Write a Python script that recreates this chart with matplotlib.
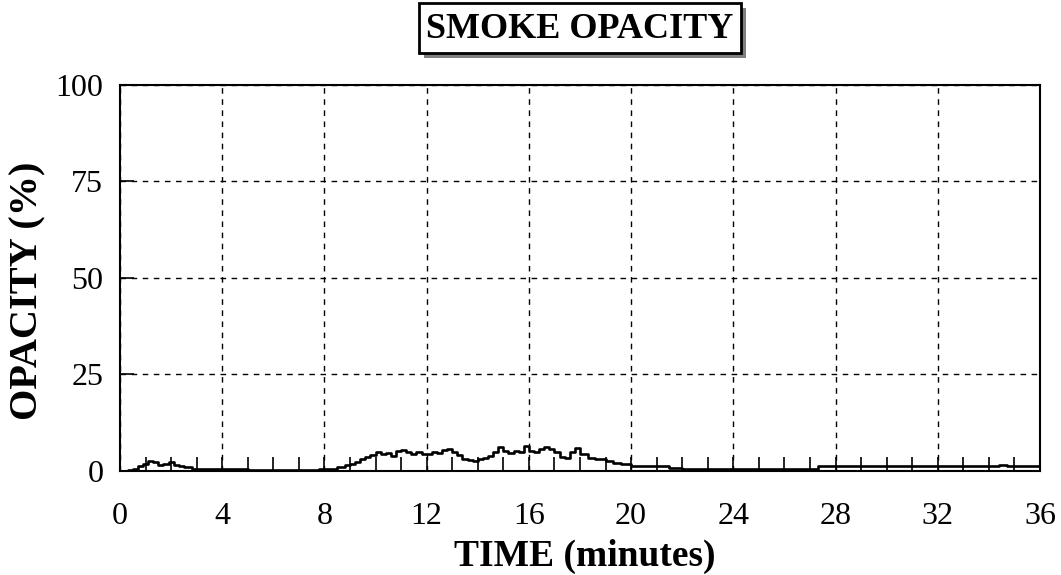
import matplotlib
matplotlib.use("Agg")
import matplotlib.pyplot as plt
from matplotlib.ticker import MultipleLocator
from matplotlib.patches import Rectangle

# smoke opacity readings (minutes, %)
time = [0.0, 0.3, 0.5, 0.7, 0.9, 1.1, 1.3, 1.5, 1.7, 1.9, 2.1, 2.3, 2.5, 2.8, 3.2, 3.6,
        4.0, 5.0, 6.0, 7.0, 7.8, 8.2, 8.5, 8.8, 9.0, 9.2, 9.4, 9.6, 9.8, 10.0, 10.2,
        10.4, 10.6, 10.8, 11.0, 11.2, 11.4, 11.6, 11.8, 12.0, 12.2, 12.4, 12.6, 12.8,
        13.0, 13.2, 13.4, 13.6, 13.8, 14.0, 14.2, 14.4, 14.6, 14.8, 15.0, 15.2, 15.4,
        15.6, 15.8, 16.0, 16.2, 16.4, 16.6, 16.8, 17.0, 17.2, 17.4, 17.6, 17.8, 18.0,
        18.3, 18.6, 19.0, 19.3, 19.6, 20.0, 20.5, 21.0, 21.5, 22.0, 24.0, 26.0, 27.3,
        30.0, 33.0, 34.4, 34.7, 36.0]
opacity = [0.0, 0.3, 0.6, 1.2, 1.8, 2.5, 2.3, 1.6, 1.8, 2.2, 1.5, 1.2, 1.0, 0.6, 0.5, 0.4,
           0.4, 0.3, 0.3, 0.3, 0.4, 0.6, 1.0, 1.5, 1.9, 2.4, 3.0, 3.5, 4.2, 4.8, 4.3,
           4.6, 4.0, 5.2, 5.5, 4.8, 4.4, 5.0, 4.3, 4.5, 5.0, 4.6, 5.4, 5.8, 4.8, 4.2,
           3.0, 2.9, 2.7, 3.0, 3.4, 3.8, 5.0, 6.2, 5.3, 4.6, 5.2, 5.0, 6.6, 5.2, 4.9,
           5.8, 6.3, 5.6, 5.0, 3.6, 3.3, 4.8, 5.9, 4.3, 3.4, 3.0, 2.6, 2.0, 1.7, 1.4,
           1.3, 1.2, 0.9, 0.6, 0.5, 0.5, 1.2, 1.2, 1.2, 1.6, 1.2, 1.2]

xticks = [0, 4, 8, 12, 16, 20, 24, 28, 32, 36]
yticks = [0, 25, 50, 75, 100]

plt.rcParams['font.family'] = ['Liberation Serif', 'DejaVu Serif']

fig = plt.figure(figsize=(10.61, 5.75), dpi=100)
ax = fig.add_axes([0.1131, 0.1809, 0.8671, 0.6713])

ax.step(time, opacity, where='post', color='black', lw=1.9)

ax.set_xlim(0, 36)
ax.set_ylim(0, 100)
ax.set_xticks(xticks)
ax.set_yticks(yticks)
ax.xaxis.set_minor_locator(MultipleLocator(1))
ax.tick_params(which='both', direction='in', labelsize=23, width=1.2)
ax.tick_params(which='major', length=10)
ax.tick_params(which='minor', length=10)
ax.tick_params(axis='x', which='major', pad=22)
ax.tick_params(axis='y', which='major', pad=12)
ax.grid(True, which='major', color='black', linestyle=(0, (4, 4)), lw=1)
for s in ax.spines.values():
    s.set_linewidth(1.5)

fig.text(0.551, 1 - 556 / 575, 'TIME (minutes)', ha='center', va='center',
         fontsize=27, fontweight='bold')
fig.text(28 / 1061, 1 - 291 / 575, 'OPACITY (%)', ha='center', va='center',
         rotation=90, fontsize=29, fontweight='bold')

# title box with drop shadow
fig.patches.append(Rectangle((424 / 1061, 1 - 58 / 575), 322 / 1061, 50 / 575,
                             transform=fig.transFigure, facecolor='#808080',
                             edgecolor='none', zorder=1))
fig.patches.append(Rectangle((419 / 1061, 1 - 53 / 575), 322 / 1061, 50 / 575,
                             transform=fig.transFigure, facecolor='white',
                             edgecolor='black', lw=2, zorder=2))
fig.text(580 / 1061, 1 - 29 / 575, 'SMOKE OPACITY', ha='center', va='center',
         fontsize=26, fontweight='bold', zorder=3)

fig.savefig('out.png', dpi=100)
